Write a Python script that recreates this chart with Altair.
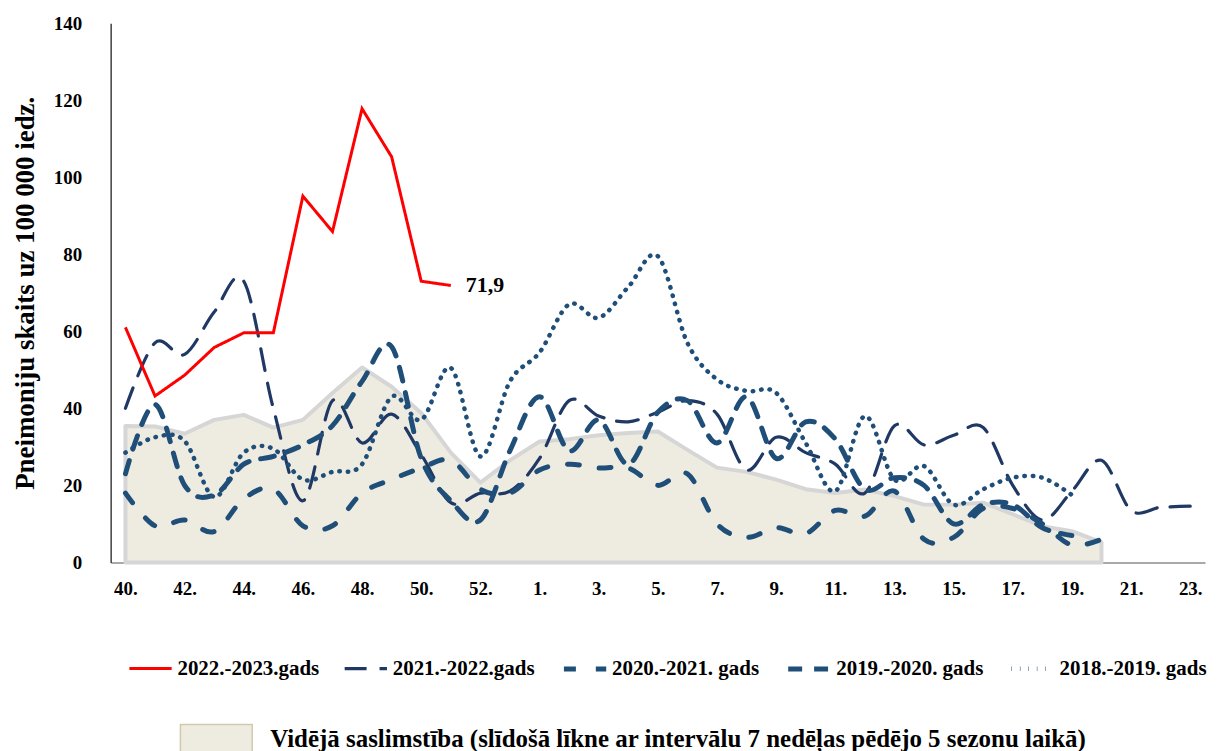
import altair as alt
import pandas as pd

FONT = "Liberation Serif"

# ---- data ----
weeks = [f"{w}." for w in list(range(40, 54)) + list(range(1, 24))]
tick_positions = list(range(0, len(weeks), 2))

seasons = ["2022.-2023.gads", "2021.-2022.gads", "2020.-2021. gads",
           "2019.-2020. gads", "2018.-2019. gads"]

s2022_23 = [61.0, 43.2, 48.6, 55.8, 59.6, 59.6, 95.1, 85.9, 117.8, 105.3, 73.0, 71.9]
s2021_22 = [40, 57, 54, 65, 73, 40, 16, 42, 31, 38.5, 28, 15.5, 18, 18.5, 27, 42, 38,
            36.5, 39, 42, 38.5, 24, 32.5, 28.5, 25.5, 18, 35.5, 30.5, 33, 35, 20, 11,
            18.5, 26.5, 13.5, 14.3, 14.6]
s2020_21 = [18, 9.5, 11, 8, 16.5, 19, 9.5, 9.5, 18, 21.5, 24.5, 26.5, 19, 18, 24, 25.5,
            24.5, 24.5, 20, 23, 10, 6.5, 9, 7.5, 13.5, 12, 18.5, 6, 6.5, 14, 14, 10, 4.5, 6]
s2019_20 = [23, 41, 20, 17.5, 25.5, 27.5, 30.5, 35.5, 47, 56, 27, 16, 11, 29, 43, 29, 37,
            25.5, 39, 42, 31, 43, 27, 36.5, 32, 19, 22, 20, 10, 15, 15, 9, 7]
s2018_19 = [28.5, 32.5, 31.5, 17, 28.5, 29.5, 21.5, 23.5, 25.5, 43, 37, 50.5, 27.5, 47,
            54.5, 67, 63.5, 71.5, 79.5, 57, 47.5, 44.5, 44, 31, 18.5, 38, 21.5, 25, 15,
            19, 22, 22, 17.5]
avg_values = [35.4, 35.3, 33.4, 37, 38.3, 35, 37, 44, 50.6, 45.6, 38.8, 28.5, 20.7, 26.5,
              31.4, 32, 33, 33.6, 34, 29.2, 24.6, 23.5, 21.5, 19, 18, 18.9, 17.2, 15, 15,
              15.5, 12.5, 9.4, 8.1, 5.2]
avg_label = "Vidējā saslimstība (slīdošā līkne ar intervālu 7 nedēļas pēdējo 5 sezonu laikā)"

series_values = [s2022_23, s2021_22, s2020_21, s2019_20, s2018_19]
colors = ["#FF0000", "#1F3864", "#1F4E79", "#1F4E79", "#1F4E79"]
dashes = [[1, 0], [22, 13], [12, 20], [14, 12], [0.5, 8]]
widths = [3, 3.2, 5, 5, 4.5]

rows = []
for name, vals in zip(seasons, series_values):
    for i, v in enumerate(vals):
        rows.append({"idx": i, "week": weeks[i], "season": name, "value": v})
lines_df = pd.DataFrame(rows)
red_df = lines_df[lines_df.season == seasons[0]]
blue_df = lines_df[lines_df.season != seasons[0]]

avg_df = pd.DataFrame({"idx": list(range(len(avg_values))), "value": avg_values,
                       "series": avg_label})

last = len(s2022_23) - 1
label_df = pd.DataFrame({"idx": [last], "value": [s2022_23[last]],
                         "text": [f"{s2022_23[last]}".replace(".", ",")]})

# ---- encodings ----
label_expr = "[" + ",".join(f"'{w}'" for w in weeks) + "][datum.value]"
x_enc = alt.X("idx:Q",
              scale=alt.Scale(domain=[-0.5, len(weeks) - 0.5], nice=False, zero=False),
              axis=alt.Axis(values=tick_positions, labelExpr=label_expr, title=None,
                            ticks=False, grid=False, labelFont=FONT, labelFontSize=19,
                            labelFontWeight="bold", labelColor="black", labelPadding=17,
                            domainColor="#8C8C8C", domainWidth=1.5, labelFlush=False))
y_enc = alt.Y("value:Q",
              scale=alt.Scale(domain=[0, 140], nice=False),
              axis=alt.Axis(values=list(range(0, 141, 20)), title="Pneimoniju skaits uz 100 000 iedz.",
                            ticks=False, grid=False, labelFont=FONT, labelFontSize=19,
                            labelFontWeight="bold", labelColor="black", labelPadding=29,
                            domainColor="#404040", domainWidth=1.5,
                            titleFont=FONT, titleFontSize=27, titleFontWeight="bold",
                            titleColor="black", titlePadding=14))

season_legend = alt.Legend(title=None, orient="none", legendX=16, legendY=624,
                           direction="horizontal", columns=5, symbolType="stroke",
                           symbolSize=1800, labelFont=FONT, labelFontSize=21,
                           labelFontWeight="bold", labelColor="black", labelOffset=3,
                           columnPadding=18, labelLimit=500, padding=0)

color_enc = alt.Color("season:N", scale=alt.Scale(domain=seasons, range=colors), legend=season_legend)
dash_enc = alt.StrokeDash("season:N", scale=alt.Scale(domain=seasons, range=dashes), legend=season_legend)
width_enc = alt.StrokeWidth("season:N", scale=alt.Scale(type="ordinal", domain=seasons, range=widths),
                            legend=season_legend)

area = alt.Chart(avg_df).mark_area(stroke="#D6D6D6", strokeWidth=4, strokeJoin="round").encode(
    x=x_enc, y=y_enc,
    fill=alt.Fill("series:N", scale=alt.Scale(domain=[avg_label], range=["#EEECE1"]),
                  legend=alt.Legend(title=None, orient="none", legendX=69, legendY=681,
                                    symbolType="M-1,-0.4H1V0.4H-1Z", symbolSize=5184,
                                    symbolStrokeColor="#D2C9AB", symbolStrokeWidth=1.5,
                                    labelFont=FONT, labelFontSize=25, labelFontWeight="bold",
                                    labelColor="black", labelOffset=17, labelLimit=1100,
                                    padding=0)),
)

blue = alt.Chart(blue_df).mark_line(interpolate="cardinal", strokeCap="round").encode(
    x=x_enc, y=y_enc, color=color_enc, strokeDash=dash_enc, strokeWidth=width_enc,
    order="idx:Q", detail="season:N")

red = alt.Chart(red_df).mark_line(interpolate="linear").encode(
    x=x_enc, y=y_enc, color=color_enc, strokeDash=dash_enc, strokeWidth=width_enc,
    order="idx:Q")

text = alt.Chart(label_df).mark_text(align="left", baseline="middle", dx=15, font=FONT,
                                      fontSize=22, fontWeight="bold", color="black").encode(
    x=x_enc, y=y_enc, text="text:N")

chart = alt.layer(area, blue, red, text).properties(
    width=1098, height=541,
    autosize=alt.AutoSizeParams(type="none"),
    padding={"left": 103, "top": 14, "right": 4, "bottom": 188},
).configure_view(stroke=None)

chart.save("out.html", embed_options={"renderer": "svg", "actions": False})
